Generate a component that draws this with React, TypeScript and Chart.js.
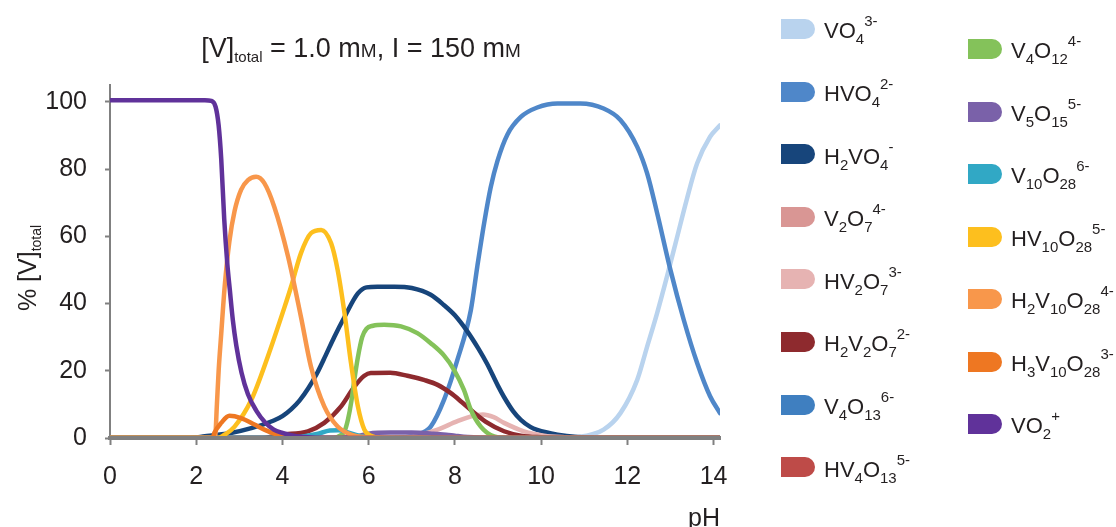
import React, { useEffect, useRef } from 'react';
import { Chart, registerables } from 'chart.js';

Chart.register(...registerables);

const FONT = "'Liberation Sans', Arial, sans-serif";
const TEXT = '#231F20';
const AXIS = '#808080';

const xTicks = [0, 2, 4, 6, 8, 10, 12, 14];
const yTicks = [0, 20, 40, 60, 80, 100];
const X_MAX = 14.15;
const Y_MAX = 105;

const seriesNames = [
  'VO_{4}^{3-}', 'HVO_{4}^{2-}', 'H_{2}VO_{4}^{-}', 'V_{2}O_{7}^{4-}', 'HV_{2}O_{7}^{3-}',
  'H_{2}V_{2}O_{7}^{2-}', 'V_{4}O_{13}^{6-}', 'HV_{4}O_{13}^{5-}', 'V_{4}O_{12}^{4-}',
  'V_{5}O_{15}^{5-}', 'V_{10}O_{28}^{6-}', 'HV_{10}O_{28}^{5-}', 'H_{2}V_{10}O_{28}^{4-}',
  'H_{3}V_{10}O_{28}^{3-}', 'VO_{2}^{+}',
];
const seriesColors = [
  '#B9D3EE', '#4F87C9', '#17457B', '#D99694', '#E6B3B2',
  '#8E2A2E', '#3F7FC0', '#BE4B48', '#84C25A',
  '#7A61A9', '#31A8C5', '#FDBF1E', '#F8974B',
  '#EE7722', '#60329A',
];

// pH sample points and % [V]total values
const vo4PH = [0, 10.3, 10.84, 11.45, 11.84, 12.23, 12.46, 12.69, 12.92, 13.15, 13.38, 13.62, 13.92, 14.15];
const vo4Pct = [0, 0, 0.3, 2.5, 7.4, 17.3, 27.2, 37.1, 48, 59.5, 71, 81.7, 89.6, 93];

const hvo4PH = [0, 6.5, 7.13, 7.44, 7.75, 8.06, 8.37, 8.52, 8.68, 8.83, 8.99, 9.22, 9.53, 9.91, 10.38, 10.91, 11.45, 11.84, 12.23, 12.46, 12.69, 13.0, 13.31, 13.62, 13.92, 14.15];
const hvo4Pct = [0, 0, 1, 3.4, 11.4, 23.3, 38, 51, 64, 74.5, 82.5, 90.3, 95.5, 98.3, 99.5, 99.5, 98, 94.6, 86.6, 78.7, 67, 50, 35.1, 22.3, 12.4, 7.4];

const h2vo4PH = [0, 1.8, 2.2, 2.8, 3.3, 3.8, 4.0, 4.2, 4.4, 4.6, 4.8, 5.0, 5.2, 5.44, 5.75, 5.95, 6.2, 6.6, 7.0, 7.44, 7.75, 8.0, 8.3, 8.55, 8.75, 9.0, 9.14, 9.35, 9.53, 9.75, 9.91, 10.38, 10.84, 11.5, 14.15];
const h2vo4Pct = [0, 0, 0.5, 1.5, 3, 5.2, 6.5, 8.5, 11.2, 14.8, 19.2, 24.5, 30, 36, 43, 44.8, 45, 45, 44.6, 42.6, 39.5, 36.5, 31.5, 26.5, 22, 15.5, 12.2, 8, 5.4, 3.3, 2.4, 1, 0.3, 0, 0];

const v2o7PH = [0, 14.15];
const v2o7Pct = [0, 0];

const hv2o7PH = [0, 6.8, 7.21, 7.6, 8.06, 8.4, 8.65, 8.9, 9.14, 9.6, 10.07, 10.6, 11.0, 14.15];
const hv2o7Pct = [0, 0, 1, 2.5, 5, 6.5, 7, 6.2, 4.5, 2, 0.7, 0.2, 0, 0];

const h2v2o7PH = [0, 3.5, 3.97, 4.59, 4.97, 5.36, 5.67, 5.9, 6.05, 6.5, 6.9, 7.3, 7.6, 7.9, 8.15, 8.4, 8.72, 9.14, 9.53, 10.0, 10.5, 14.15];
const h2v2o7Pct = [0, 0, 1, 2, 4.5, 9.4, 15.3, 18.5, 19.3, 19.4, 18.5, 17.2, 15.8, 13.4, 10.8, 8, 4.8, 2, 0.7, 0.2, 0, 0];

const v4o13PH = [0, 14.15];
const v4o13Pct = [0, 0];

const hv4o13PH = [0, 14.15];
const hv4o13Pct = [0, 0];

const v4o12PH = [0, 5.2, 5.3, 5.44, 5.52, 5.6, 5.67, 5.75, 5.85, 5.95, 6.1, 6.36, 6.75, 7.13, 7.44, 7.75, 7.98, 8.21, 8.37, 8.6, 8.91, 9.3, 14.15];
const v4o12Pct = [0, 0, 0.5, 2, 5.5, 11, 17.5, 24, 30, 32.5, 33.4, 33.7, 33.2, 31.2, 28.2, 24.5, 20.3, 14.3, 8.4, 3.4, 0.5, 0, 0];

const v5o15PH = [0, 5.3, 5.5, 5.8, 6.0, 6.5, 7.0, 7.5, 7.8, 8.0, 8.3, 8.6, 9.0, 14.15];
const v5o15Pct = [0, 0, 0.2, 0.7, 1.3, 1.6, 1.6, 1.3, 1.0, 0.7, 0.3, 0.1, 0, 0];

const v10o28PH = [0, 4.0, 4.4, 4.8, 5.1, 5.3, 5.5, 5.8, 6.0, 6.3, 14.15];
const v10o28Pct = [0, 0, 0.3, 1.2, 2.2, 2.3, 1.7, 0.6, 0.2, 0, 0];

const hv10o28PH = [0, 2.5, 2.66, 2.89, 3.28, 3.66, 4.05, 4.2, 4.43, 4.66, 4.9, 5.13, 5.28, 5.44, 5.59, 5.75, 5.9, 6.05, 6.3, 14.15];
const hv10o28Pct = [0, 0, 1, 3.4, 11.4, 24.2, 39, 45, 55, 60.9, 61.9, 57.9, 50, 37.1, 22.3, 9.4, 2.5, 0.7, 0, 0];

const h2v10o28PH = [0, 2.4, 2.44, 2.48, 2.52, 2.58, 2.66, 2.77, 2.89, 3.04, 3.2, 3.39, 3.58, 3.81, 4.13, 4.43, 4.66, 4.97, 5.28, 5.59, 6.0, 6.5, 14.15];
const h2v10o28Pct = [0, 0, 0.5, 10, 20, 31, 45, 58.5, 67.5, 73.8, 76.7, 77.7, 75.8, 68.8, 54, 36, 21.3, 9.4, 3.4, 1, 0.2, 0, 0];

const h3v10o28PH = [0, 2.38, 2.42, 2.58, 2.77, 3.04, 3.35, 3.58, 3.81, 3.97, 4.3, 4.6, 14.15];
const h3v10o28Pct = [0, 0, 1.5, 4.5, 6.6, 5.9, 4, 2.5, 1.3, 0.7, 0.2, 0, 0];

const vo2PH = [0, 2.2, 2.35, 2.45, 2.52, 2.58, 2.65, 2.72, 2.78, 2.85, 2.93, 3.05, 3.2, 3.4, 3.6, 3.8, 4.0, 4.2, 4.5, 5.0, 14.15];
const vo2Pct = [100.5, 100.5, 100.3, 98.5, 93, 83, 65, 52, 44, 35, 27.5, 19.5, 13, 8, 4.6, 2.5, 1.5, 0.8, 0.3, 0, 0];

const seriesPH = [vo4PH, hvo4PH, h2vo4PH, v2o7PH, hv2o7PH, h2v2o7PH, v4o13PH, hv4o13PH, v4o12PH, v5o15PH, v10o28PH, hv10o28PH, h2v10o28PH, h3v10o28PH, vo2PH];
const seriesPct = [vo4Pct, hvo4Pct, h2vo4Pct, v2o7Pct, hv2o7Pct, h2v2o7Pct, v4o13Pct, hv4o13Pct, v4o12Pct, v5o15Pct, v10o28Pct, hv10o28Pct, h2v10o28Pct, h3v10o28Pct, vo2Pct];

function Formula({ text, sub, sup, subSize }: { text: string; sub: number; sup: number; subSize: number }) {
  const parts: React.ReactNode[] = [];
  const re = /_\{([^}]*)\}|\^\{([^}]*)\}|([^_^]+)/g;
  let m: RegExpExecArray | null;
  let k = 0;
  while ((m = re.exec(text))) {
    if (m[1] !== undefined) {
      parts.push(<span key={k++} style={{ fontSize: subSize, position: 'relative', top: sub }}>{m[1]}</span>);
    } else if (m[2] !== undefined) {
      parts.push(<span key={k++} style={{ fontSize: subSize, position: 'relative', top: sup }}>{m[2]}</span>);
    } else {
      parts.push(<span key={k++}>{m[3]}</span>);
    }
  }
  return <>{parts}</>;
}

export default function App() {
  const canvasRef = useRef<HTMLCanvasElement | null>(null);

  useEffect(() => {
    const canvas = canvasRef.current;
    if (!canvas) return;
    const n = seriesNames.length;
    const tickFont = { family: FONT, size: 25 };
    const chart = new Chart(canvas, {
      type: 'line',
      data: {
        datasets: seriesNames.map((name, i) => ({
          label: name,
          data: seriesPH[i].map((x, j) => ({ x, y: seriesPct[i][j] })),
          borderColor: seriesColors[i],
          backgroundColor: seriesColors[i],
          borderWidth: 4.5,
          pointRadius: 0,
          fill: false,
          cubicInterpolationMode: 'monotone',
          borderJoinStyle: 'round',
          borderCapStyle: 'round',
          order: n - 1 - i,
        })),
      },
      options: {
        animation: false,
        responsive: false,
        events: [],
        layout: { padding: { left: 0, top: 85, right: 1116 - 720, bottom: 0 } },
        plugins: {
          legend: { display: false },
          tooltip: { enabled: false },
          title: { display: false },
        },
        scales: {
          x: {
            type: 'linear',
            min: 0,
            max: X_MAX,
            afterBuildTicks: (s: any) => { s.ticks = xTicks.map((v) => ({ value: v })); },
            afterFit: (s: any) => { s.height = 527 - 438; },
            border: { display: true, color: AXIS, width: 4, z: 1 },
            grid: { drawOnChartArea: false, drawTicks: true, tickLength: 7, tickColor: AXIS, tickWidth: 2 },
            ticks: { padding: 17, font: tickFont, color: TEXT, maxRotation: 0, autoSkip: false },
            title: { display: true, text: 'pH', align: 'end', color: TEXT, padding: 0, font: { family: FONT, size: 25, lineHeight: 0.6 } },
          },
          y: {
            type: 'linear',
            min: 0,
            max: Y_MAX,
            afterBuildTicks: (s: any) => { s.ticks = yTicks.map((v) => ({ value: v })); },
            afterFit: (s: any) => { s.width = 110; },
            border: { display: true, color: AXIS, width: 2 },
            grid: { drawOnChartArea: false, drawTicks: true, tickLength: 5, tickColor: AXIS, tickWidth: 2 },
            ticks: { padding: 18, font: tickFont, color: TEXT, autoSkip: false },
          },
        },
      } as any,
    });
    return () => chart.destroy();
  }, []);

  const legendCol1 = seriesNames.slice(0, 8);
  const legendCol2 = seriesNames.slice(8);

  const legendItem = (name: string, idx: number, left: number, cy: number) => (
    <div key={name} style={{ position: 'absolute', left, top: 0 }}>
      <div
        style={{
          position: 'absolute', left: 0, top: cy - 10, width: 34, height: 20,
          background: seriesColors[idx], borderRadius: '0 10px 10px 0',
        }}
      />
      <div
        style={{
          position: 'absolute', left: 43, top: cy - 10.6, whiteSpace: 'nowrap',
          fontSize: 22, lineHeight: '26px', color: TEXT, fontFamily: FONT,
        }}
      >
        <Formula text={name} sub={6} sup={-12} subSize={15} />
      </div>
    </div>
  );

  return (
    <div style={{ position: 'absolute', left: 0, top: 0, width: 1116, height: 527, background: '#fff', fontFamily: FONT, overflow: 'hidden' }}>
      <canvas ref={canvasRef} width={1116} height={527} style={{ position: 'absolute', left: 0, top: 0, width: 1116, height: 527 }} />
      <div
        style={{
          position: 'absolute', left: 0, top: 33, width: 722, textAlign: 'center',
          fontSize: 27, lineHeight: '30px', color: TEXT, whiteSpace: 'nowrap',
        }}
      >
        [V]<span style={{ fontSize: 15, position: 'relative', top: 5 }}>total</span> = 1.0 m
        <span style={{ fontVariant: 'small-caps' }}>m</span>, I = 150 m
        <span style={{ fontVariant: 'small-caps' }}>m</span>
      </div>
      <div
        style={{
          position: 'absolute', left: 27 - 100, top: 268 - 15, width: 200, height: 30,
          lineHeight: '30px', textAlign: 'center', fontSize: 25, color: TEXT,
          transform: 'rotate(-90deg)', transformOrigin: '50% 50%', whiteSpace: 'nowrap',
        }}
      >
        % [V]<span style={{ fontSize: 14, position: 'relative', top: 5 }}>total</span>
      </div>
      {legendCol1.map((name, i) => legendItem(name, i, 781, 29 + i * 62.6))}
      {legendCol2.map((name, i) => legendItem(name, i + 8, 968, 49 + i * 62.5))}
    </div>
  );
}
